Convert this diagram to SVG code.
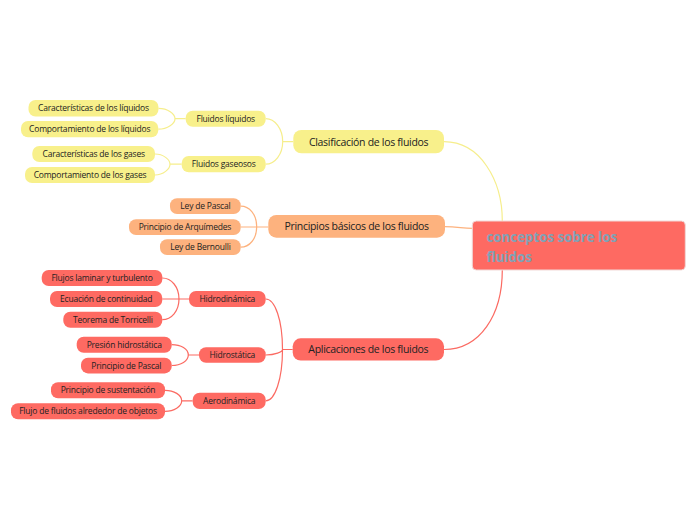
<svg xmlns="http://www.w3.org/2000/svg" width="697" height="520" viewBox="0 0 697 520">
<style>
text{font-family:"Open Sans","Noto Sans","Liberation Sans",sans-serif;fill:#222;text-anchor:middle}
.lf{font-size:8.5px;letter-spacing:-0.2px}
.mn{font-size:10.5px;letter-spacing:-0.3px}
.y{fill:#f8f08b}
.o{fill:#fdb27e}
.r{fill:#fe6a62}
.cy{fill:none;stroke:#f6ee8c;stroke-width:1.2}
.co{fill:none;stroke:#fdb27e;stroke-width:1.2}
.cr{fill:none;stroke:#fb6a62;stroke-width:1.2}
.ctr{fill:#fe6a62;stroke:#f1d9d8;stroke-width:1}
.ct{font-family:"Open Sans","Noto Sans","DejaVu Sans",sans-serif;font-size:13.3px;font-weight:700;fill:#80a2b7;text-anchor:start}
</style>
<g id="connectors">
<path class="cy" d="M158.5,108.3 C167.8,108.3 175,113.8 175,118.7 M158.3,129.2 C167.7,129.2 175,123.5 175,118.7 M175,118.7 H185.7"/>
<path class="cy" d="M155,154 C163.3,154 170,159.6 170,164.2 M155,175 C163.3,175 170,169 170,164.2 M170,164.2 H181.7"/>
<path class="cy" d="M265.7,118.7 C275,118.7 282.7,129 282.7,141.7 M265.7,164.2 C275,164.2 282.7,154 282.7,141.7 M282.7,141.7 H293.3"/>
<path class="co" d="M240.7,206.2 C249.5,206.2 256.7,214.6 256.7,226.8 M240.7,247.2 C249.5,247.2 256.7,238.8 256.7,226.8 M240.7,227 H268.3"/>
<path class="cr" d="M162.3,278 C171.5,278 179,287 179,299 M162.3,319.7 C171.5,319.7 179,311 179,299 M162.3,299 H189"/>
<path class="cr" d="M171.7,344.7 C181,344.7 188.3,349 188.3,355 M171.7,365.5 C181,365.5 188.3,361 188.3,355 M188.3,355 H199"/>
<path class="cr" d="M165,390.3 C174,390.3 181.7,395 181.7,400.8 M165,411.3 C174,411.3 181.7,406.5 181.7,400.8 M181.7,400.8 H192.7"/>
<path class="cr" d="M265.7,299 C275,299 282.5,320 282.5,349.5 M265.7,355 C275,355 282.5,352 282.5,349.5 M265.7,400.8 C275,400.8 282.5,379 282.5,349.5 M282.5,349.5 H292.7"/>
<path class="cy" d="M444,141.7 C480,141.7 502.3,180 502.3,221"/>
<path class="co" d="M444.5,226.7 C458,226.7 462,228.3 472.3,228.3"/>
<path class="cr" d="M444,349.5 C480,349.5 502.3,315 502.3,270"/>
</g>
<g id="central"><rect class="ctr" x="472.3" y="221" width="213" height="49" rx="4"/><text class="ct" x="486.5" y="241.5">conceptos sobre los</text><text class="ct" x="486.5" y="261.5">fluidos</text></g>
<g id="clasificacion"><rect class="y" x="293.3" y="130" width="150.7" height="23.3" rx="8"/><text class="mn" x="368.6" y="145.5">Clasificación de los fluidos</text></g>
<g id="principios"><rect class="o" x="268.3" y="215" width="176.7" height="22.7" rx="8"/><text class="mn" x="356.6" y="230.2">Principios básicos de los fluidos</text></g>
<g id="aplicaciones"><rect class="r" x="292.7" y="338.3" width="151.3" height="22.3" rx="8"/><text class="mn" x="368.3" y="353.3">Aplicaciones de los fluidos</text></g>
<g id="fluidos-liquidos"><rect class="y" x="185.7" y="110.7" width="80" height="16" rx="7"/><text class="lf" x="225.7" y="121.7">Fluidos líquidos</text></g>
<g id="fluidos-gaseosos"><rect class="y" x="181.7" y="156" width="84" height="16.3" rx="7"/><text class="lf" x="223.7" y="167.2">Fluidos gaseosos</text></g>
<g id="car-liquidos"><rect class="y" x="28.5" y="100" width="130" height="16.5" rx="7"/><text class="lf" x="93.5" y="111.3">Características de los líquidos</text></g>
<g id="comp-liquidos"><rect class="y" x="21" y="121" width="137.3" height="16.3" rx="7"/><text class="lf" x="89.7" y="132.2">Comportamiento de los líquidos</text></g>
<g id="car-gases"><rect class="y" x="32.3" y="146" width="122.7" height="16" rx="7"/><text class="lf" x="93.7" y="157">Características de los gases</text></g>
<g id="comp-gases"><rect class="y" x="25" y="167" width="130" height="16" rx="7"/><text class="lf" x="90" y="178">Comportamiento de los gases</text></g>
<g id="ley-pascal"><rect class="o" x="170" y="198.3" width="70.7" height="15.7" rx="7"/><text class="lf" x="205.4" y="209.2">Ley de Pascal</text></g>
<g id="arquimedes"><rect class="o" x="129" y="219.3" width="111.7" height="15.7" rx="7"/><text class="lf" x="184.9" y="230.2">Principio de Arquímedes</text></g>
<g id="bernoulli"><rect class="o" x="160" y="239.3" width="80.7" height="15.7" rx="7"/><text class="lf" x="200.4" y="250.2">Ley de Bernoulli</text></g>
<g id="hidrodinamica"><rect class="r" x="189" y="291" width="76.7" height="16" rx="7"/><text class="lf" x="227.3" y="302">Hidrodinámica</text></g>
<g id="flujos"><rect class="r" x="41.7" y="270" width="120.7" height="16" rx="7"/><text class="lf" x="102" y="281">Flujos laminar y turbulento</text></g>
<g id="ecuacion"><rect class="r" x="50" y="291" width="112.3" height="16" rx="7"/><text class="lf" x="106.2" y="302">Ecuación de continuidad</text></g>
<g id="torricelli"><rect class="r" x="63.3" y="311.7" width="99" height="16" rx="7"/><text class="lf" x="112.8" y="322.7">Teorema de Torricelli</text></g>
<g id="hidrostatica"><rect class="r" x="199" y="347.3" width="66.7" height="15.5" rx="7"/><text class="lf" x="232.3" y="358.1">Hidrostática</text></g>
<g id="presion"><rect class="r" x="76.7" y="336.7" width="95" height="16" rx="7"/><text class="lf" x="124.2" y="347.7">Presión hidrostática</text></g>
<g id="principio-pascal"><rect class="r" x="81" y="357.7" width="90.7" height="15.7" rx="7"/><text class="lf" x="126.3" y="368.6">Principio de Pascal</text></g>
<g id="aerodinamica"><rect class="r" x="192.7" y="392.7" width="73" height="16.3" rx="7"/><text class="lf" x="229.2" y="403.9">Aerodinámica</text></g>
<g id="sustentacion"><rect class="r" x="51" y="382.3" width="114" height="16" rx="7"/><text class="lf" x="108" y="393.3">Principio de sustentación</text></g>
<g id="flujo-objetos"><rect class="r" x="11" y="403.3" width="154" height="16" rx="7"/><text class="lf" x="88" y="414.3">Flujo de fluidos alrededor de objetos</text></g>
</svg>
